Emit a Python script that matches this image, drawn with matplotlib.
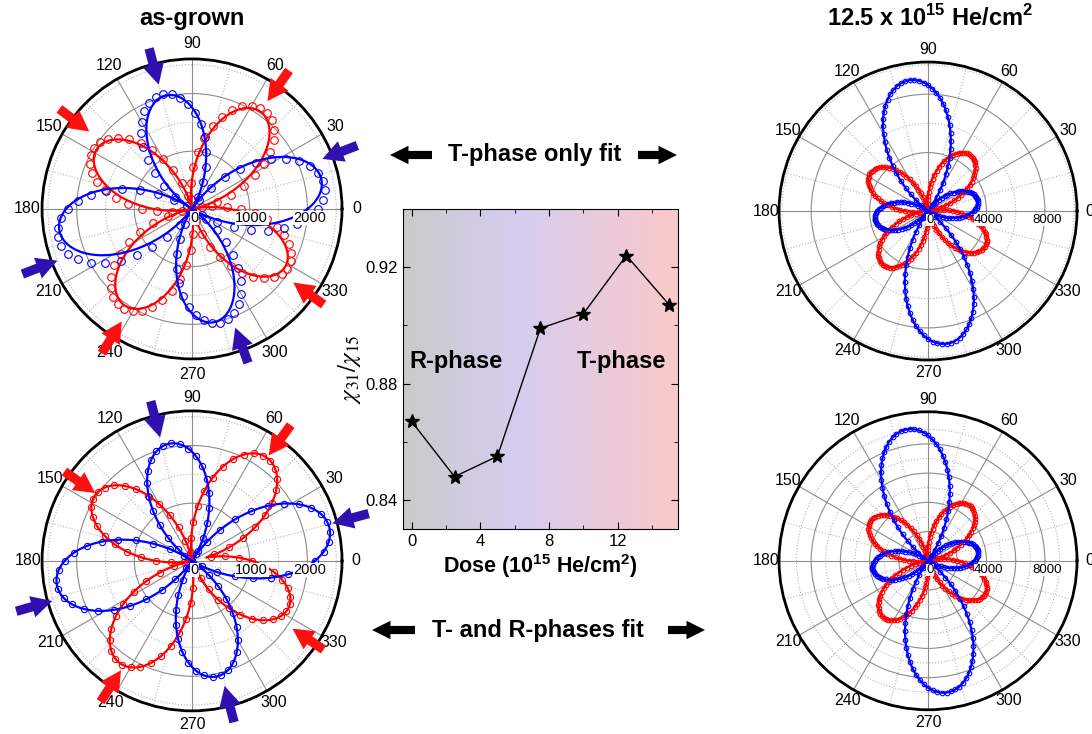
import numpy as np
import matplotlib
matplotlib.use('Agg')
import matplotlib.pyplot as plt
from matplotlib.colors import LinearSegmentedColormap

plt.rcParams['font.family'] = ['Liberation Sans', 'DejaVu Sans']
plt.rcParams['mathtext.fontset'] = 'custom'
plt.rcParams['mathtext.rm'] = 'Liberation Sans'
plt.rcParams['mathtext.bf'] = 'Liberation Sans:bold'

BLUE = '#0000ff'
RED = '#ff0000'
ARROW_BLUE = '#3010b0'
ARROW_RED = '#ff1010'

# centre panel: chi31/chi15 vs He dose
dose = [0, 2.5, 5, 7.5, 10, 12.5, 15]
chi_ratio = [0.867, 0.848, 0.855, 0.899, 0.904, 0.924, 0.907]

# polar panels: lobe direction (deg) and peak SHG intensity of each lobe
# as-grown, T-phase only fit (top left)
tl_blue_ang = [10, 105, 192, 284]
tl_blue_amp = [2330, 2050, 2380, 2030]
tl_red_ang = [54, 149, 234, 329]
tl_red_amp = [2120, 2000, 2100, 1950]
tl_blue_fit_ang = [13, 103, 189, 281]
tl_blue_fit_amp = [2300, 2020, 2330, 2000]
tl_red_fit_ang = [55, 148, 235, 328]
tl_red_fit_amp = [2060, 1950, 2040, 1900]
# as-grown, T- and R-phase fit (bottom left)
bl_blue_ang = [13.6, 101, 190, 282]
bl_blue_amp = [2450, 2070, 2380, 2050]
bl_red_ang = [54, 146, 235, 334]
bl_red_amp = [2210, 2030, 2170, 1860]
# 12.5e15 He/cm2 (top right / bottom right)
tr_blue_ang = [12, 98, 189, 278]
tr_blue_amp = [3490, 9040, 3700, 9180]
tr_red_ang = [53, 147, 230, 328]
tr_red_amp = [4790, 4730, 4790, 4590]
br_blue_ang = [11, 99, 188, 278]
br_blue_amp = [3490, 9110, 3840, 9110]
br_red_ang = [53, 145, 232, 330]
br_red_amp = [4730, 4790, 4930, 4520]

# arrows marking the lobes in the as-grown panels (direction, tip radius)
tl_blue_arrow_ang = [105, 21, 201, 290]
tl_blue_arrow_r = [2230, 2420, 2500, 2190]
tl_red_arrow_ang = [55, 143, 238, 324]
tl_red_arrow_r = [2280, 2230, 2300, 2170]
bl_blue_arrow_ang = [104.5, 15, 196, 284.6]
bl_blue_arrow_r = [2210, 2520, 2520, 2240]
bl_red_arrow_ang = [54, 145, 237, 326]
bl_red_arrow_r = [2260, 2050, 2260, 2100]


def lobes(theta_deg, ang, amp, p):
    # petal shaped lobes through the peaks
    r = np.zeros_like(theta_deg, dtype=float)
    for a, A in zip(ang, amp):
        d = (theta_deg - a + 180) % 360 - 180
        c = np.where(np.abs(d) < 45, np.cos(np.radians(2 * d)), 0).clip(0)
        r = np.maximum(r, A * c ** p)
    return r


fig = plt.figure(figsize=(10.92, 7.34), dpi=100)


def polar_panel(rect, rmax, rmajor, rminor, rlabels, rfont, pad):
    ax = fig.add_axes(rect, projection='polar')
    ax.set_ylim(0, rmax)
    ax.set_xticks(np.radians(np.arange(0, 360, 30)))
    ax.set_xticklabels([str(a) for a in range(0, 360, 30)], fontsize=11.5)
    ax.set_xticks(np.radians(np.arange(15, 360, 30)), minor=True)
    ax.set_yticks(rmajor)
    ax.set_yticks(rminor, minor=True)
    ax.set_yticklabels([])
    ax.xaxis.grid(True, which='major', color='#8c8c8c', lw=0.8, ls='-')
    ax.xaxis.grid(True, which='minor', color='#b4b4b4', lw=0.8, ls=':')
    ax.yaxis.grid(True, which='major', color='#8c8c8c', lw=0.8, ls='-')
    ax.yaxis.grid(True, which='minor', color='#b4b4b4', lw=0.8, ls=':')
    ax.set_axisbelow(True)
    ax.spines['polar'].set_linewidth(2)
    ax.tick_params(axis='x', which='major', direction='in', length=5, width=1, pad=pad)
    ax.tick_params(axis='x', which='minor', direction='in', length=3, width=0.8)
    ax.tick_params(axis='y', which='both', length=0)
    for r in [0] + rlabels:
        ax.annotate(str(r), xy=(0, r), xytext=(1.5, -6.5), textcoords='offset points',
                    ha='center', va='center', fontsize=rfont, zorder=6,
                    bbox=dict(fc='white', ec='none', pad=0.2))
    return ax


def draw_series(ax, step, ang, amp, fit_ang, fit_amp, color, ms, p_data, p_fit):
    th = np.arange(0, 360, step)
    ax.plot(np.radians(th), lobes(th, ang, amp, p_data), 'o', mfc='none', mec=color,
            ms=ms, mew=0.8, zorder=3)
    thf = np.arange(0, 360.5, 0.5)
    ax.plot(np.radians(thf), lobes(thf, fit_ang, fit_amp, p_fit), '-', color=color,
            lw=1.6, zorder=4)


def draw_arrows(ax, ang, rtip, color, length):
    for a, r in zip(ang, rtip):
        ax.annotate('', xy=(np.radians(a), r), xytext=(np.radians(a), r + length),
                    annotation_clip=False,
                    arrowprops=dict(arrowstyle='simple,head_length=1.0,head_width=1.05,tail_width=0.45',
                                    fc=color, ec='none', mutation_scale=15,
                                    shrinkA=0, shrinkB=0))


# top left: as-grown, T-phase only fit
ax_tl = polar_panel([0.0385, 0.511, 0.2747, 0.4087], 2600, [1000, 2000],
                    [500, 1500, 2500], [1000, 2000], 10.5, 4)
draw_series(ax_tl, 4, tl_red_ang, tl_red_amp, tl_red_fit_ang, tl_red_fit_amp, RED, 5.5, 1.1, 1.3)
draw_series(ax_tl, 4, tl_blue_ang, tl_blue_amp, tl_blue_fit_ang, tl_blue_fit_amp, BLUE, 5.5, 1.1, 1.3)
draw_arrows(ax_tl, tl_blue_arrow_ang, tl_blue_arrow_r, ARROW_BLUE, 650)
draw_arrows(ax_tl, tl_red_arrow_ang, tl_red_arrow_r, ARROW_RED, 650)

# bottom left: as-grown, T- and R-phase fit
ax_bl = polar_panel([0.0385, 0.0315, 0.2747, 0.4087], 2600, [1000, 2000],
                    [500, 1500, 2500], [1000, 2000], 10.5, 3)
draw_series(ax_bl, 4, bl_red_ang, bl_red_amp, bl_red_ang, bl_red_amp, RED, 4.5, 1.2, 1.2)
draw_series(ax_bl, 4, bl_blue_ang, bl_blue_amp, bl_blue_ang, bl_blue_amp, BLUE, 4.5, 1.2, 1.2)
draw_arrows(ax_bl, bl_blue_arrow_ang, bl_blue_arrow_r, ARROW_BLUE, 650)
draw_arrows(ax_bl, bl_red_arrow_ang, bl_red_arrow_r, ARROW_RED, 650)

# top right: 12.5e15 He/cm2
ax_tr = polar_panel([0.7134, 0.5095, 0.2729, 0.406], 10200, [4000, 8000],
                    [2000, 6000, 10000], [4000, 8000], 9.5, 2)
draw_series(ax_tr, 2, tr_red_ang, tr_red_amp, tr_red_ang, tr_red_amp, RED, 3.3, 1.2, 1.2)
draw_series(ax_tr, 2, tr_blue_ang, tr_blue_amp, tr_blue_ang, tr_blue_amp, BLUE, 3.3, 1.2, 1.2)

# bottom right
ax_br = polar_panel([0.7134, 0.033, 0.2729, 0.406], 10200, [2000, 4000, 6000, 8000],
                    [1000, 3000, 5000, 7000, 9000], [4000, 8000], 9.5, 2)
draw_series(ax_br, 2, br_red_ang, br_red_amp, br_red_ang, br_red_amp, RED, 3.3, 1.2, 1.2)
draw_series(ax_br, 2, br_blue_ang, br_blue_amp, br_blue_ang, br_blue_amp, BLUE, 3.3, 1.2, 1.2)

# centre panel
axc = fig.add_axes([0.369, 0.2793, 0.2518, 0.436])
xlim = (-0.5, 15.5)
ylim = (0.83, 0.94)
bg = LinearSegmentedColormap.from_list('bg', [(0, '#cacaca'), (0.42, '#d5cdf0'), (1, '#fbc9c9')])
axc.imshow(np.linspace(0, 1, 256)[None, :], cmap=bg, aspect='auto',
           extent=[xlim[0], xlim[1], ylim[0], ylim[1]], zorder=0)
axc.plot(dose, chi_ratio, '-', color='black', lw=1, marker='*', ms=10, zorder=3)
axc.set_xlim(xlim)
axc.set_ylim(ylim)
axc.set_xticks([0, 4, 8, 12])
axc.set_xticks([2, 6, 10, 14], minor=True)
axc.set_yticks([0.84, 0.88, 0.92])
axc.set_yticks([0.86, 0.90], minor=True)
axc.set_yticklabels(['0.84', '0.88', '0.92'])
axc.tick_params(which='both', direction='in', top=True, right=True, labelsize=12)
axc.tick_params(which='major', length=5)
axc.tick_params(which='minor', length=3)
axc.set_xlabel(r'Dose (10$^{\mathbf{15}}$ He/cm$^{\mathbf{2}}$)', fontsize=15.5,
               fontweight='bold', labelpad=2)
axc.set_ylabel(r'$\chi_{31}/\chi_{15}$', fontsize=18, math_fontfamily='stix', labelpad=2)
axc.text(2.6, 0.8874, 'R-phase', ha='center', va='center', fontsize=17, fontweight='bold')
axc.text(12.2, 0.8874, 'T-phase', ha='center', va='center', fontsize=17, fontweight='bold')

# overlay in pixel coordinates for titles and captions
ov = fig.add_axes([0, 0, 1, 1], zorder=-1)
ov.set_xlim(0, 1092)
ov.set_ylim(734, 0)
ov.axis('off')
ov.text(192, 18, 'as-grown', ha='center', va='center', fontsize=17, fontweight='bold')
ov.text(930, 18, r'12.5 x 10$^{\mathbf{15}}$ He/cm$^{\mathbf{2}}$', ha='center', va='center',
        fontsize=17, fontweight='bold')
ov.text(535, 155, 'T-phase only fit', ha='center', va='center', fontsize=17, fontweight='bold')
ov.text(538, 630, 'T- and R-phases fit', ha='center', va='center', fontsize=17, fontweight='bold')
blk = dict(arrowstyle='simple,head_length=0.95,head_width=0.95,tail_width=0.42',
           fc='black', ec='none', mutation_scale=14, shrinkA=0, shrinkB=0)
for x0, x1, y in [(432, 390, 155), (638, 677, 155), (415, 372, 630), (668, 705, 630)]:
    ov.annotate('', xy=(x1, y), xytext=(x0, y), arrowprops=blk)

fig.savefig('out.png', dpi=100)
